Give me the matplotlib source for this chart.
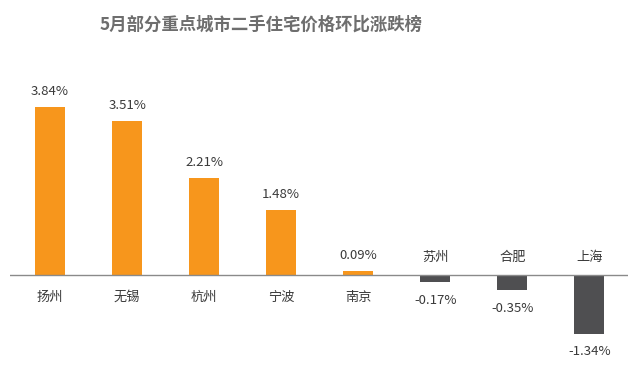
import matplotlib
matplotlib.use("Agg")
import matplotlib.pyplot as plt

plt.rcParams['font.family'] = ['Noto Sans CJK SC', 'DejaVu Sans']

cities = ['扬州', '无锡', '杭州', '宁波', '南京', '苏州', '合肥', '上海']
values = [3.84, 3.51, 2.21, 1.48, 0.09, -0.17, -0.35, -1.34]
title = '5月部分重点城市二手住宅价格环比涨跌榜'

pos_color = '#F7961C'
neg_color = '#4F4F51'
text_color = '#3a3a3a'

fig = plt.figure(figsize=(6.4, 3.71), dpi=100)
ax = fig.add_axes([10/640, (371-345)/371, 618/640, (345-90)/371])

x = list(range(len(cities)))
colors = [pos_color if v >= 0 else neg_color for v in values]
bars = ax.bar(x, values, width=0.39, color=colors, zorder=2)
ax.axhline(0, color='#8a8a8a', lw=1.0, zorder=3)

ax.set_xlim(-0.52, 7.5)
ax.set_ylim(-1.6, 4.23)
ax.axis('off')

for xi, v, c in zip(x, values, cities):
    lbl = f'{v:.2f}%'
    if v >= 0:
        ax.annotate(lbl, (xi, v), xytext=(0, 11.5), textcoords='offset points',
                    ha='center', va='center', fontsize=9.5, color=text_color)
        ax.annotate(c, (xi, 0), xytext=(0, -16), textcoords='offset points',
                    ha='center', va='center', fontsize=9.5, color=text_color)
    else:
        ax.annotate(lbl, (xi, v), xytext=(0, -13), textcoords='offset points',
                    ha='center', va='center', fontsize=9.5, color=text_color)
        ax.annotate(c, (xi, 0), xytext=(0, 12.5), textcoords='offset points',
                    ha='center', va='center', fontsize=9.5, color=text_color)

fig.text(261/640, 1 - 25/371, title, ha='center', va='center',
         fontsize=12.5, fontweight='bold', color='#6e6e6e')

fig.savefig('out.png', dpi=100)
